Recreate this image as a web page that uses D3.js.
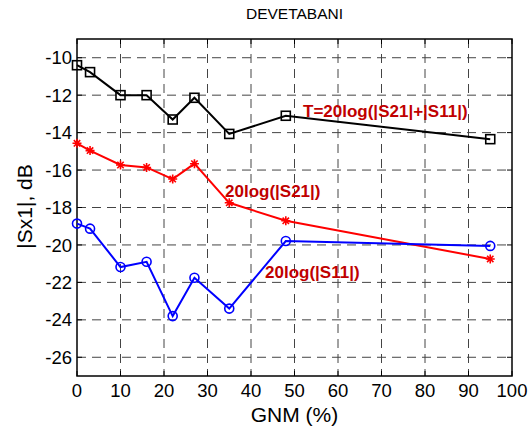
<!DOCTYPE html>
<html>
<head>
<meta charset="utf-8">
<script src="https://cdn.jsdelivr.net/npm/d3@7"></script>
<style>
    body { margin: 0; background: #fff; }
    text { font-family: "Liberation Sans", Arial, sans-serif; }
    .tick-label { font-size: 18.5px; fill: #000; }
    .axis-label { font-size: 21px; fill: #000; }
    .curve-label { font-size: 17px; font-weight: bold; fill: #c00000; }
</style>
</head>
<body>
<div id="chart"></div>
<script>
// GNM content (%)
var gnm = [0, 3, 10, 16, 22, 27, 35, 48, 95];
// T = 20log(|S21|+|S11|)
var totalDb = [-10.4, -10.77, -12.0, -12.0, -13.3, -12.14, -14.07, -13.1, -14.35];
// 20log(|S21|)
var s21Db = [-14.57, -14.96, -15.73, -15.86, -16.48, -15.66, -17.75, -18.71, -20.75];
// 20log(|S11|)
var s11Db = [-18.86, -19.13, -21.18, -20.9, -23.8, -21.75, -23.4, -19.79, -20.05];

var xTicks = [0, 10, 20, 30, 40, 50, 60, 70, 80, 90, 100];
var yTicks = [-26, -24, -22, -20, -18, -16, -14, -12, -10];

var margin = { top: 39, right: 20, bottom: 51, left: 77 };
var width = 532 - margin.left - margin.right,
    height = 427 - margin.top - margin.bottom;

var svg = d3.select("#chart").append("svg")
    .attr("width", 532)
    .attr("height", 427)
    .append("g")
    .attr("transform", "translate(" + margin.left + "," + margin.top + ")");

var x = d3.scaleLinear().domain([0, 100]).range([0, width]);
var y = d3.scaleLinear().domain([-27, -9]).range([height, 0]);

// dashed grid
svg.append("g").selectAll("line")
    .data(xTicks.slice(1, -1))
    .enter().append("line")
    .attr("x1", d => x(d)).attr("x2", d => x(d))
    .attr("y1", 0).attr("y2", height)
    .attr("stroke", "#444").attr("stroke-width", 1)
    .attr("stroke-dasharray", "9,6");

svg.append("g").selectAll("line")
    .data(yTicks)
    .enter().append("line")
    .attr("x1", 0).attr("x2", width)
    .attr("y1", d => y(d)).attr("y2", d => y(d))
    .attr("stroke", "#444").attr("stroke-width", 1)
    .attr("stroke-dasharray", "9,6");

// inner tick marks on all four sides
var tickLen = 5;
var ticks = svg.append("g").attr("stroke", "#000").attr("stroke-width", 1);
xTicks.forEach(function(d) {
    ticks.append("line").attr("x1", x(d)).attr("x2", x(d)).attr("y1", height).attr("y2", height - tickLen);
    ticks.append("line").attr("x1", x(d)).attr("x2", x(d)).attr("y1", 0).attr("y2", tickLen);
});
yTicks.forEach(function(d) {
    ticks.append("line").attr("x1", 0).attr("x2", tickLen).attr("y1", y(d)).attr("y2", y(d));
    ticks.append("line").attr("x1", width).attr("x2", width - tickLen).attr("y1", y(d)).attr("y2", y(d));
});

// tick labels
svg.append("g").selectAll("text")
    .data(xTicks)
    .enter().append("text")
    .attr("class", "tick-label")
    .attr("x", d => x(d))
    .attr("y", height + 21)
    .attr("text-anchor", "middle")
    .text(d => d);

svg.append("g").selectAll("text")
    .data(yTicks)
    .enter().append("text")
    .attr("class", "tick-label")
    .attr("x", -5)
    .attr("y", d => y(d) + 6.6)
    .attr("text-anchor", "end")
    .text(d => d);

// frame
svg.append("rect")
    .attr("width", width).attr("height", height)
    .attr("fill", "none").attr("stroke", "#000").attr("stroke-width", 1.5);

// axis titles
svg.append("text")
    .attr("class", "axis-label")
    .attr("x", width / 2)
    .attr("y", height + 46)
    .attr("text-anchor", "middle")
    .text("GNM (%)");

svg.append("text")
    .attr("class", "axis-label")
    .attr("transform", "translate(" + (-45) + "," + (height / 2 - 1) + ") rotate(-90)")
    .attr("text-anchor", "middle")
    .text("|Sx1|, dB");

svg.append("text")
    .attr("x", width / 2)
    .attr("y", -20)
    .attr("text-anchor", "middle")
    .style("font-size", "15.5px")
    .text("DEVETABANI");

// series
var line = d3.line()
    .x(d => x(d[0]))
    .y(d => y(d[1]));

function series(values, color) {
    var pts = gnm.map((g, i) => [g, values[i]]);
    svg.append("path")
        .datum(pts)
        .attr("fill", "none")
        .attr("stroke", color)
        .attr("stroke-width", 2)
        .attr("d", line);
    return pts;
}

var totalPts = series(totalDb, "#000");
svg.append("g").selectAll("rect")
    .data(totalPts)
    .enter().append("rect")
    .attr("x", d => x(d[0]) - 4.5)
    .attr("y", d => y(d[1]) - 4.5)
    .attr("width", 9).attr("height", 9)
    .attr("fill", "none").attr("stroke", "#000").attr("stroke-width", 1.6);

var s21Pts = series(s21Db, "#ff0000");
svg.append("g").selectAll("path")
    .data(s21Pts)
    .enter().append("path")
    .attr("d", function(d) {
        var cx = x(d[0]), cy = y(d[1]), r = 4.5, q = 3.2;
        return "M" + (cx - r) + "," + cy + "H" + (cx + r) +
            "M" + cx + "," + (cy - r) + "V" + (cy + r) +
            "M" + (cx - q) + "," + (cy - q) + "L" + (cx + q) + "," + (cy + q) +
            "M" + (cx - q) + "," + (cy + q) + "L" + (cx + q) + "," + (cy - q);
    })
    .attr("stroke", "#ff0000").attr("stroke-width", 1.6).attr("fill", "none");

var s11Pts = series(s11Db, "#0000ff");
svg.append("g").selectAll("circle")
    .data(s11Pts)
    .enter().append("circle")
    .attr("cx", d => x(d[0]))
    .attr("cy", d => y(d[1]))
    .attr("r", 4.5)
    .attr("fill", "none").attr("stroke", "#0000ff").attr("stroke-width", 1.6);

// curve labels
var labels = [
    { text: "T=20log(|S21|+|S11|)", px: 303, py: 117 },
    { text: "20log(|S21|)", px: 225, py: 197 },
    { text: "20log(|S11|)", px: 265, py: 278 }
];
svg.append("g").selectAll("text")
    .data(labels)
    .enter().append("text")
    .attr("class", "curve-label")
    .attr("x", d => d.px - margin.left)
    .attr("y", d => d.py - margin.top)
    .text(d => d.text);
</script>
</body>
</html>
